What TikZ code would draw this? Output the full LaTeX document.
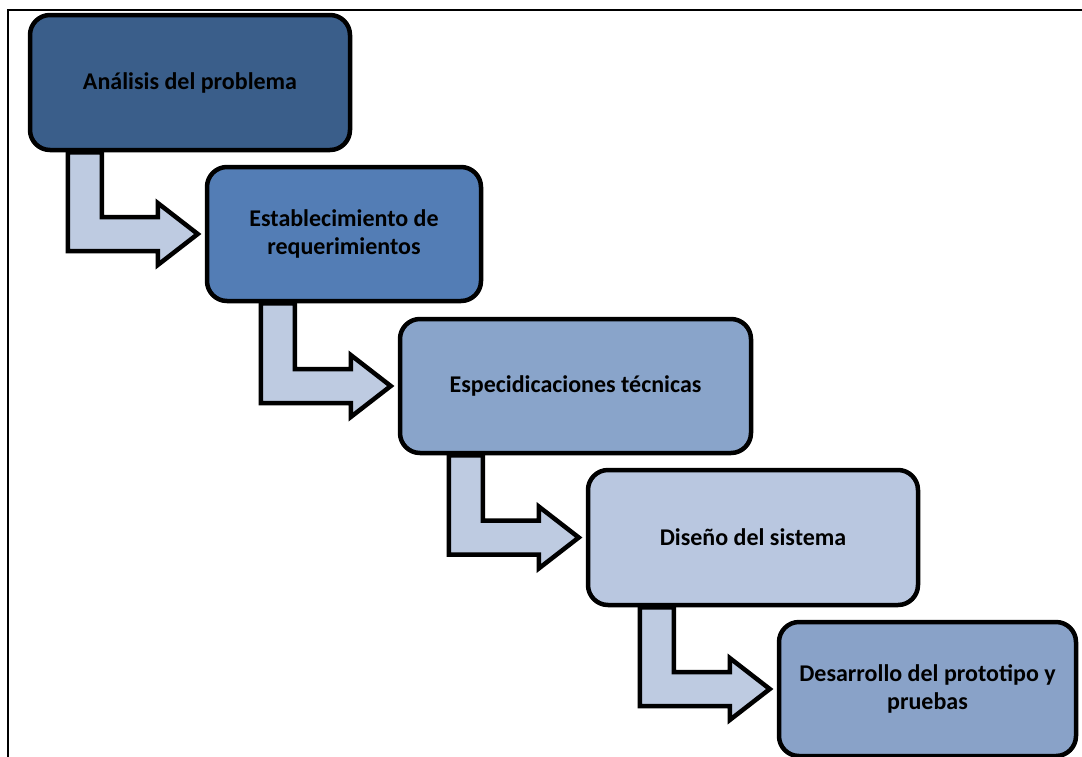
\documentclass[tikz,border=0pt]{standalone}
\usepackage{fontspec}
\setmainfont{Carlito}
\usetikzlibrary{calc,backgrounds}

\definecolor{faseuno}{HTML}{3A5E8A}
\definecolor{fasedos}{HTML}{537DB5}
\definecolor{fasetres}{HTML}{89A4CA}
\definecolor{fasecuatro}{HTML}{B9C7E0}
\definecolor{fasecinco}{HTML}{89A2C8}
\definecolor{flechaazul}{HTML}{BECBE1}

\begin{document}
\begin{tikzpicture}[x=1pt, y=-1pt,
    fase/.style={draw=black, line width=4.5pt, rounded corners=20pt,
        align=center, inner sep=0pt,
        font=\bfseries\fontsize{24}{28}\selectfont},
    flecha/.style={draw=black, line width=4.5pt, fill=flechaazul, line join=miter}]
    \useasboundingbox (0,0) rectangle (1082,756);

    \node[fase, fill=faseuno, minimum width=320pt, minimum height=135pt]
        (analisis) at (190,82.5) {Análisis del problema};
    \node[fase, fill=fasedos, minimum width=274pt, minimum height=134pt]
        (requisitos) at (344,234) {Establecimiento de\\requerimientos};
    \node[fase, fill=fasetres, minimum width=351pt, minimum height=134pt]
        (especificaciones) at (575.5,386) {Especidicaciones técnicas};
    \node[fase, fill=fasecuatro, minimum width=330pt, minimum height=135pt]
        (diseno) at (753,537.5) {Diseño del sistema};
    \node[fase, fill=fasecinco, minimum width=297pt, minimum height=134pt]
        (desarrollo) at (927.5,689) {Desarrollo del prototipo y\\pruebas};

    \begin{scope}[on background layer]
        \draw[line width=2.5pt, draw=black] (8,10) rectangle (1100,780);
        \foreach \desde/\hasta in {analisis/requisitos, requisitos/especificaciones,
                especificaciones/diseno, diseno/desarrollo}
            \draw[flecha] let \p1=(\desde.south), \p2=($(\hasta.west)+(-7,0)$) in
                (\x2-130pt,\y1) -- (\x2-130pt,\y2-17pt) -- (\x2-40pt,\y2-17pt)
                -- (\x2-40pt,\y2-31pt) -- (\p2) -- (\x2-40pt,\y2+31pt)
                -- (\x2-40pt,\y2+17pt) -- (\x2-96pt,\y2+17pt) -- (\x2-96pt,\y1) -- cycle;
    \end{scope}
\end{tikzpicture}
\end{document}
